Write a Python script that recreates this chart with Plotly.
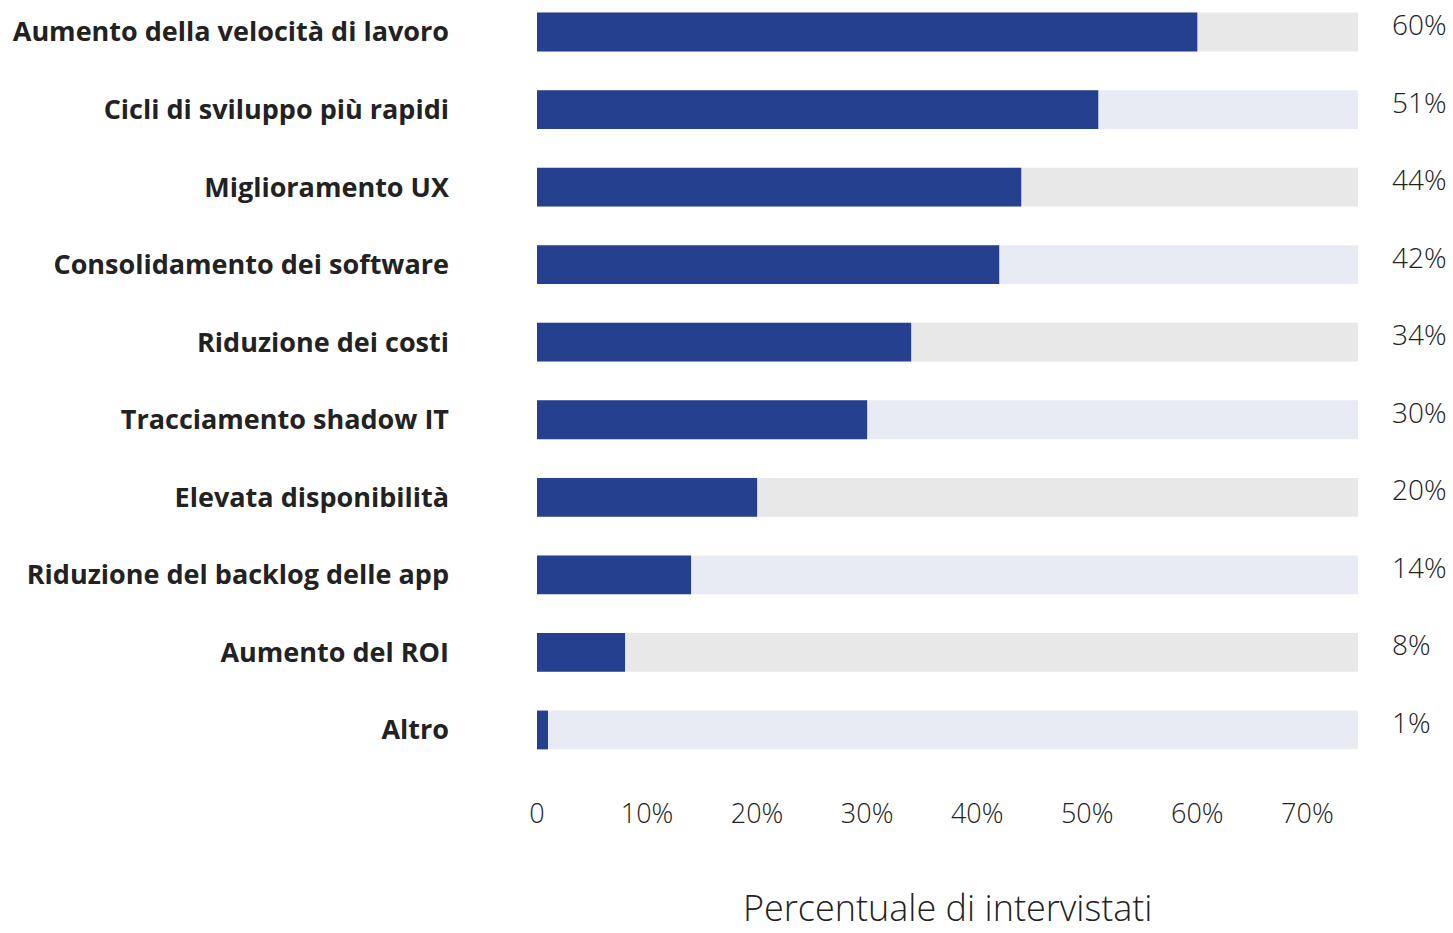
import plotly.graph_objects as go

categories = [
    "Aumento della velocità di lavoro",
    "Cicli di sviluppo più rapidi",
    "Miglioramento UX",
    "Consolidamento dei software",
    "Riduzione dei costi",
    "Tracciamento shadow IT",
    "Elevata disponibilità",
    "Riduzione del backlog delle app",
    "Aumento del ROI",
    "Altro",
]
values = [60, 51, 44, 42, 34, 30, 20, 14, 8, 1]
value_labels = ["60%", "51%", "44%", "42%", "34%", "30%", "20%", "14%", "8%", "1%"]
tick_vals = [0, 10, 20, 30, 40, 50, 60, 70]
tick_text = ["0", "10%", "20%", "30%", "40%", "50%", "60%", "70%"]
x_title = "Percentuale di intervistati"
x_max = 74.6

BAR = "#24408e"
TRACK = ["#e8e8e8", "#e8ebf4"]
TEXT = "#222222"
LABEL_FONT = "Open Sans"

track_colors = [TRACK[i % 2] for i in range(len(categories))]

fig = go.Figure()
fig.add_trace(go.Bar(
    y=categories, x=[x_max] * len(categories), orientation="h",
    marker=dict(color=track_colors, line=dict(width=0)),
    width=0.5, hoverinfo="skip", showlegend=False,
))
fig.add_trace(go.Bar(
    y=categories, x=values, orientation="h",
    marker=dict(color=BAR, line=dict(width=0)),
    width=0.5, showlegend=False,
))

for c, t in zip(categories, value_labels):
    fig.add_annotation(
        x=1.0, xref="paper", y=c, yref="y", text=t, showarrow=False,
        xanchor="left", xshift=32, yshift=8,
        font=dict(family=LABEL_FONT, size=28, color=TEXT, weight=300),
    )

# axis title placed as annotation (axis titles are clamped inside the margin)
fig.add_annotation(
    x=0.5, xref="paper", y=0, yref="paper", text=x_title, showarrow=False,
    xanchor="center", yanchor="middle", yshift=-117,
    font=dict(family=LABEL_FONT, size=36, color=TEXT, weight=300),
)

fig.update_layout(
    width=1453, height=933,
    margin=dict(l=537, r=95, t=0, b=143, autoexpand=False),
    paper_bgcolor="white", plot_bgcolor="white",
    barmode="overlay", bargap=0.5,
)
fig.update_xaxes(
    range=[0, x_max], tickvals=tick_vals, ticktext=tick_text,
    showgrid=False, zeroline=False, showline=False, ticks="",
    automargin=False, ticklabelstandoff=5,
    tickfont=dict(family=LABEL_FONT, size=27, color=TEXT, weight=300),
)
fig.update_yaxes(
    categoryorder="array", categoryarray=categories,
    range=[9.774, -0.4126], automargin=False,
    showgrid=False, zeroline=False, showline=False, ticks="",
    ticklabelstandoff=87,
    tickfont=dict(family=LABEL_FONT, size=27, color=TEXT, weight=700),
)

fig.write_html("out.html", config={"displayModeBar": False},
               post_script="document.body.style.margin='0';")
